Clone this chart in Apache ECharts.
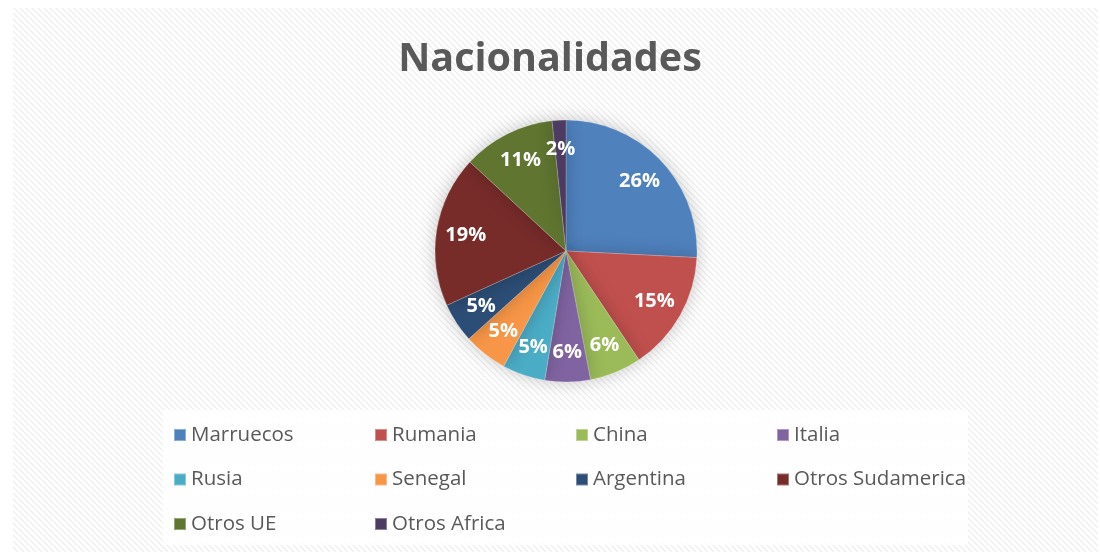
<!DOCTYPE html>
<html>
<head>
<meta charset="utf-8">
<script src="https://cdn.jsdelivr.net/npm/echarts@6/dist/echarts.min.js"></script>
<style>
  html, body { margin: 0; padding: 0; background: #fff; }
  #chart { width: 1100px; height: 554px; }
</style>
</head>
<body>
<div id="chart"></div>
<script>
// nationalities and their share (percent)
const categories = ['Marruecos', 'Rumania', 'China', 'Italia', 'Rusia', 'Senegal',
                    'Argentina', 'Otros Sudamerica', 'Otros UE', 'Otros Africa']
const shares = [25.8, 14.8, 6.4, 5.6, 5.3, 5.4, 4.9, 18.7, 11.4, 1.7]
const colors = ['#4F81BD', '#C0504D', '#9BBB59', '#8064A2', '#4BACC6', '#F79646',
                '#2C4D75', '#772C2A', '#5F7530', '#4D3B62']
// legend columns, laid out like the excel grid
const legendColumns = [
    ['Marruecos', 'Rusia', 'Otros UE'],
    ['Rumania', 'Senegal', 'Otros Africa'],
    ['China', 'Argentina'],
    ['Italia', 'Otros Sudamerica']
]
const legendLeft = [168, 369, 570, 771]

function hatch(){
    const c = document.createElement('canvas')
    c.width = 6; c.height = 6
    const ctx = c.getContext('2d')
    ctx.fillStyle = '#ffffff'
    ctx.fillRect(0, 0, 6, 6)
    ctx.strokeStyle = '#efefef'
    ctx.lineWidth = 1.5
    for (let k = -6; k <= 12; k += 6) {
        ctx.beginPath()
        ctx.moveTo(k, 0)
        ctx.lineTo(k + 6, 6)
        ctx.stroke()
    }
    return c
}

const pieData = categories.map((name, i) => ({ name: name, value: shares[i] }))
const font = '"Open Sans", "Noto Sans", sans-serif'

const myChart = echarts.init(document.getElementById('chart'))
const option = {
    color: colors,
    animation: false,
    graphic: [
        {
            type: 'rect', z: -10, silent: true,
            shape: { x: 13, y: 8, width: 1085, height: 544 },
            style: { fill: { image: hatch(), repeat: 'repeat' } }
        },
        {
            type: 'rect', z: -9, silent: true,
            shape: { x: 163, y: 410, width: 805, height: 135 },
            style: { fill: 'rgba(255,255,255,0.85)' }
        }
    ],
    title: {
        text: 'Nacionalidades',
        left: 'center',
        top: 35,
        textStyle: { fontFamily: font, fontSize: 39.5, fontWeight: 'bold', color: '#595959' }
    },
    legend: legendColumns.map((col, i) => ({
        data: col,
        orient: 'vertical',
        left: legendLeft[i],
        top: 416,
        itemWidth: 12,
        itemHeight: 12,
        itemGap: 16.5,
        icon: 'rect',
        selectedMode: false,
        textStyle: { fontFamily: font, fontSize: 20.5, lineHeight: 28, color: '#595959' }
    })),
    series: [
        {
            name: 'Nacionalidades',
            type: 'pie',
            center: [566, 251],
            radius: 131,
            startAngle: 90,
            clockwise: true,
            label: { show: false },
            labelLine: { show: false },
            itemStyle: {
                borderColor: 'rgba(255,255,255,0.35)',
                borderWidth: 0.6,
                shadowBlur: 18,
                shadowColor: 'rgba(0,0,0,0.22)'
            },
            emphasis: { disabled: true },
            data: pieData
        },
        {
            // transparent copy, only to put the labels further out
            name: 'labels',
            type: 'pie',
            center: [566, 251],
            radius: [66, 131],
            startAngle: 90,
            clockwise: true,
            silent: true,
            itemStyle: { color: 'rgba(0,0,0,0)' },
            label: {
                show: true,
                position: 'inside',
                formatter: p => Math.round(p.value) + '%',
                fontFamily: font,
                fontSize: 20,
                fontWeight: 'bold',
                color: '#ffffff'
            },
            labelLine: { show: false },
            emphasis: { disabled: true },
            data: pieData
        }
    ]
}
option && myChart.setOption(option)
</script>
</body>
</html>
